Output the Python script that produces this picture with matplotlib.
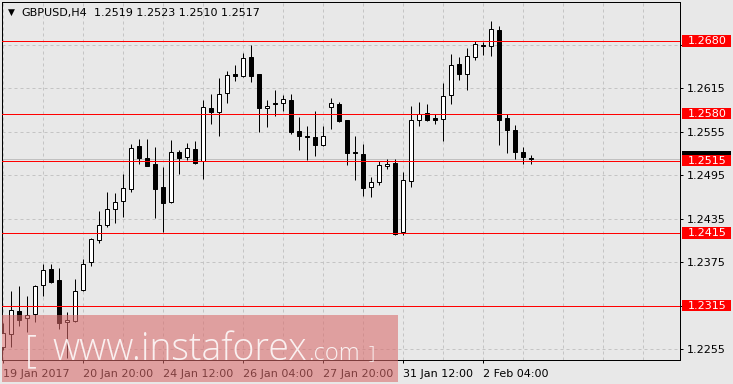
import numpy as np
import matplotlib
matplotlib.use("Agg")
import matplotlib.pyplot as plt
from matplotlib.patches import Rectangle
from matplotlib.transforms import blended_transform_factory

W, H = 733, 384
BG = "#e8e8e8"

# GBPUSD H4 bars, 19 Jan 2017 04:00 .. 2 Feb 2017
opens = [1.2258, 1.2276, 1.2308, 1.2298, 1.2303, 1.2343, 1.2365, 1.2350, 1.2292, 1.2294,
         1.2337, 1.2375, 1.2405, 1.2426, 1.2449, 1.2459, 1.2476, 1.2535, 1.2519, 1.2510,
         1.2479, 1.2458, 1.2527, 1.2520, 1.2531, 1.2514, 1.2588, 1.2582, 1.2608, 1.2634,
         1.2632, 1.2658, 1.2635, 1.2587, 1.2594, 1.2595, 1.2598, 1.2556, 1.2549, 1.2547,
         1.2537, 1.2589, 1.2593, 1.2571, 1.2527, 1.2524, 1.2479, 1.2485, 1.2507, 1.2512,
         1.2417, 1.2487, 1.2571, 1.2581, 1.2574, 1.2572, 1.2605, 1.2648, 1.2635, 1.2658,
         1.2675, 1.2673, 1.2695, 1.2574, 1.2557, 1.2527, 1.2519]
highs = [1.2291, 1.2335, 1.2342, 1.2328, 1.2344, 1.2372, 1.2373, 1.2367, 1.2307, 1.2352,
         1.2379, 1.2408, 1.2446, 1.2472, 1.2470, 1.2496, 1.2538, 1.2545, 1.2545, 1.2534,
         1.2506, 1.2544, 1.2530, 1.2539, 1.2542, 1.2599, 1.2607, 1.2629, 1.2639, 1.2647,
         1.2663, 1.2675, 1.2635, 1.2598, 1.2612, 1.2605, 1.2607, 1.2575, 1.2563, 1.2583,
         1.2563, 1.2601, 1.2596, 1.2571, 1.2549, 1.2538, 1.2493, 1.2515, 1.2518, 1.2517,
         1.2499, 1.2591, 1.2596, 1.2593, 1.2579, 1.2622, 1.2662, 1.2658, 1.2671, 1.2680,
         1.2679, 1.2708, 1.2701, 1.2579, 1.2564, 1.2534, 1.2523]
lows = [1.2254, 1.2258, 1.2287, 1.2279, 1.2292, 1.2329, 1.2347, 1.2283, 1.2243, 1.2292,
        1.2335, 1.2370, 1.2401, 1.2423, 1.2429, 1.2438, 1.2472, 1.2510, 1.2508, 1.2436,
        1.2417, 1.2456, 1.2497, 1.2516, 1.2510, 1.2490, 1.2566, 1.2549, 1.2595, 1.2625,
        1.2631, 1.2623, 1.2555, 1.2562, 1.2577, 1.2583, 1.2552, 1.2530, 1.2516, 1.2521,
        1.2535, 1.2559, 1.2568, 1.2509, 1.2488, 1.2466, 1.2465, 1.2482, 1.2503, 1.2413,
        1.2412, 1.2479, 1.2563, 1.2570, 1.2566, 1.2542, 1.2593, 1.2626, 1.2612, 1.2654,
        1.2661, 1.2659, 1.2537, 1.2526, 1.2518, 1.2510, 1.2510]
closes = [1.2277, 1.2309, 1.2296, 1.2302, 1.2342, 1.2364, 1.2348, 1.2291, 1.2295, 1.2336,
          1.2373, 1.2407, 1.2427, 1.2449, 1.2458, 1.2477, 1.2533, 1.2519, 1.2508, 1.2476,
          1.2457, 1.2527, 1.2519, 1.2532, 1.2512, 1.2589, 1.2582, 1.2607, 1.2633, 1.2632,
          1.2657, 1.2632, 1.2588, 1.2591, 1.2593, 1.2600, 1.2554, 1.2549, 1.2548, 1.2537,
          1.2549, 1.2594, 1.2570, 1.2526, 1.2525, 1.2478, 1.2485, 1.2509, 1.2511, 1.2414,
          1.2488, 1.2571, 1.2580, 1.2571, 1.2571, 1.2604, 1.2647, 1.2635, 1.2660, 1.2676,
          1.2673, 1.2696, 1.2571, 1.2558, 1.2527, 1.2520, 1.2517]

date_pos = [0, 10, 20, 30, 40, 50, 60]
date_labels = ["19 Jan 2017", "20 Jan 20:00", "24 Jan 12:00", "26 Jan 04:00",
               "27 Jan 20:00", "31 Jan 12:00", "2 Feb 04:00"]
price_ticks = [1.2255, 1.2315, 1.2375, 1.2435, 1.2495, 1.2555, 1.2615, 1.2675]
hidden_ticks = [1.2315, 1.2675]
levels = [1.2680, 1.2580, 1.2515, 1.2415, 1.2315]
bid = 1.2517
title_name = "GBPUSD,H4"
title_ohlc = "1.2519 1.2523 1.2510 1.2517"

PX = 0.72  # one pixel in points at dpi 100

fig = plt.figure(figsize=(W / 100, H / 100), dpi=100, facecolor=BG)
ax = fig.add_axes([2 / W, (H - 360) / H, 678 / W, 358 / H], facecolor=BG)
ax.set_xlim(-0.1625, 84.5875)
ax.set_ylim(1.22402, 1.27338)

for s in ax.spines.values():
    s.set_color("black")
    s.set_linewidth(PX)

# grid
for k in range(0, 85, 5):
    ax.axvline(k, color="#c4c4c4", lw=PX, ls=(0, (3, 3)), zorder=1)
for p in price_ticks:
    ax.axhline(p, color="#c4c4c4", lw=PX, ls=(0, (3, 3)), zorder=1)

# candles
x = np.arange(len(opens))
o = np.array(opens)
c = np.array(closes)
up = c >= o
ax.vlines(x, lows, highs, color="black", lw=PX, zorder=3)
ax.bar(x[up], (c - o)[up], bottom=o[up], width=0.5, facecolor="white",
       edgecolor="black", lw=PX, zorder=4)
ax.bar(x[~up], (o - c)[~up], bottom=c[~up], width=0.5, facecolor="black",
       edgecolor="black", lw=PX, zorder=4)

# bid line and level lines
ax.axhline(bid, color="#c0c0c0", lw=PX, zorder=2)
for lv in levels:
    ax.axhline(lv, color="red", lw=PX, zorder=5)

# axes ticks
ax.yaxis.tick_right()
ax.set_yticks(price_ticks)
ax.set_yticklabels(["" if p in hidden_ticks else f"{p:.4f}" for p in price_ticks])
ax.set_xticks(date_pos)
ax.set_xticklabels(date_labels)
for t in ax.get_xticklabels():
    t.set_horizontalalignment("left")
ax.tick_params(axis="y", direction="out", length=3 * PX, width=PX,
               labelsize=8, colors="black", pad=2.5)
ax.tick_params(axis="x", direction="out", length=3 * PX, width=PX,
               labelsize=8, colors="black", pad=4)

# labels on price scale
tr = blended_transform_factory(ax.transAxes, ax.transData)
lx0 = (681.7 - 2) / 678
lw_ = 49 / 678
lh = 11.5 / 7254
ax.add_patch(Rectangle((lx0, bid - lh / 2 + 0.0004), lw_, lh, transform=tr,
                       facecolor="black", edgecolor="none", clip_on=False, zorder=6))
for lv in levels:
    ax.add_patch(Rectangle((lx0, lv - lh / 2), lw_, lh, transform=tr,
                           facecolor="red", edgecolor="none", clip_on=False, zorder=7))
    ax.text((687.5 - 2) / 678, lv, f"{lv:.4f}", transform=tr, color="white",
            fontsize=8, va="center", ha="left", clip_on=False, zorder=8)

# title
fig.text(11 / W, 1 - 12.5 / H, "\u25bc", fontsize=6.5, ha="center", va="center")
fig.text(21 / W, 1 - 13 / H, title_name, fontsize=8, va="center")
fig.text(94 / W, 1 - 13 / H, title_ohlc, fontsize=8, va="center")

# watermark
fig.add_artist(Rectangle((2 / W, (H - 381.5) / H), 396 / W, 66.5 / H,
                         transform=fig.transFigure, facecolor=(0.85, 0.42, 0.42),
                         alpha=0.58, edgecolor="none", zorder=10))
wm = dict(color="white", family="Open Sans", fontweight="light", alpha=0.85,
          zorder=11, va="baseline")
fig.text(25 / W, 1 - 362 / H, "[", fontsize=27, **wm)
www = fig.text(52 / W, 1 - 360 / H, "www.instaforex", fontsize=27, **wm)
fig.canvas.draw()
end_x = www.get_window_extent().x1
fig.text((end_x + 1) / W, 1 - 360 / H, ".com", fontsize=17, **wm)
fig.text(369 / W, 1 - 358 / H, "]", fontsize=14, **wm)

fig.savefig("out.png", dpi=100, facecolor=BG)
